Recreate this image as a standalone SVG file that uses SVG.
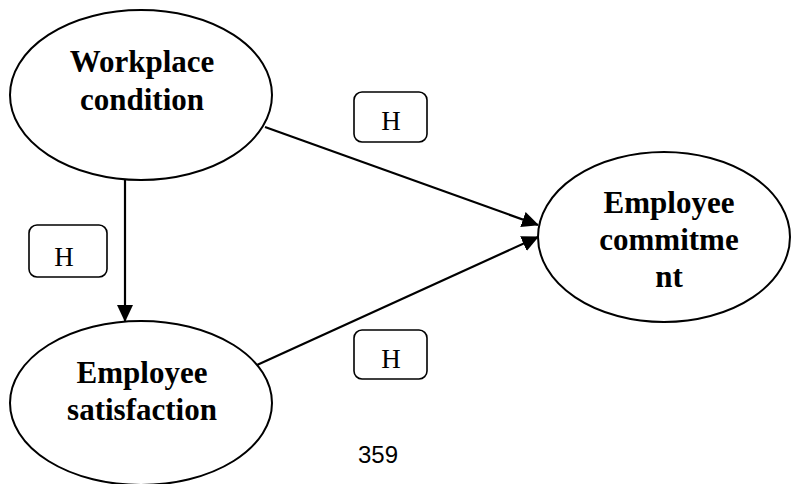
<svg xmlns="http://www.w3.org/2000/svg" width="791" height="484" viewBox="0 0 791 484">
<defs>
<marker id="arr" markerUnits="userSpaceOnUse" markerWidth="17" markerHeight="16" refX="16" refY="8" orient="auto" viewBox="0 0 17 16">
<path d="M0,0 L17,8 L0,16 z" fill="#000"/>
</marker>
<style>
.node{fill:#fff;stroke:#000;stroke-width:2}
.lbl{font-family:"Liberation Serif","Times New Roman",serif;font-weight:bold;font-size:31px;text-anchor:middle;fill:#000}
.box{fill:#fff;stroke:#000;stroke-width:1.6}
.h{font-family:"Liberation Serif","Times New Roman",serif;font-size:27px;text-anchor:middle;fill:#000}
.edge{stroke:#000;stroke-width:2.2;fill:none;marker-end:url(#arr)}
</style>
</defs>
<rect width="791" height="484" fill="#fff"/>
<g id="connectors">
<line class="edge" x1="125" y1="180" x2="125" y2="321"/>
<line class="edge" x1="265" y1="127" x2="538" y2="225"/>
<line class="edge" x1="257" y1="365" x2="538" y2="237"/>
</g>
<g id="workplace">
<ellipse class="node" cx="141" cy="95" rx="131" ry="85"/>
<text class="lbl" x="142" y="72">Workplace</text>
<text class="lbl" x="142" y="110">condition</text>
</g>
<g id="satisfaction">
<ellipse class="node" cx="141" cy="403" rx="131" ry="82"/>
<text class="lbl" x="142" y="383">Employee</text>
<text class="lbl" x="142" y="420">satisfaction</text>
</g>
<g id="commitment">
<ellipse class="node" cx="664" cy="237" rx="126" ry="85"/>
<text class="lbl" x="669" y="213">Employee</text>
<text class="lbl" x="669" y="250">commitme</text>
<text class="lbl" x="669" y="287">nt</text>
</g>
<g id="h1">
<rect class="box" x="354" y="92" width="73" height="50" rx="8"/>
<text class="h" x="391" y="130">H</text>
</g>
<g id="h2">
<rect class="box" x="29" y="225" width="78" height="52" rx="8"/>
<text class="h" x="64" y="266">H</text>
</g>
<g id="h3">
<rect class="box" x="354" y="330" width="73" height="49" rx="8"/>
<text class="h" x="391" y="368">H</text>
</g>
<text x="378" y="463" font-family="'Liberation Sans',Arial,sans-serif" font-size="24" text-anchor="middle" fill="#000">359</text>
</svg>
